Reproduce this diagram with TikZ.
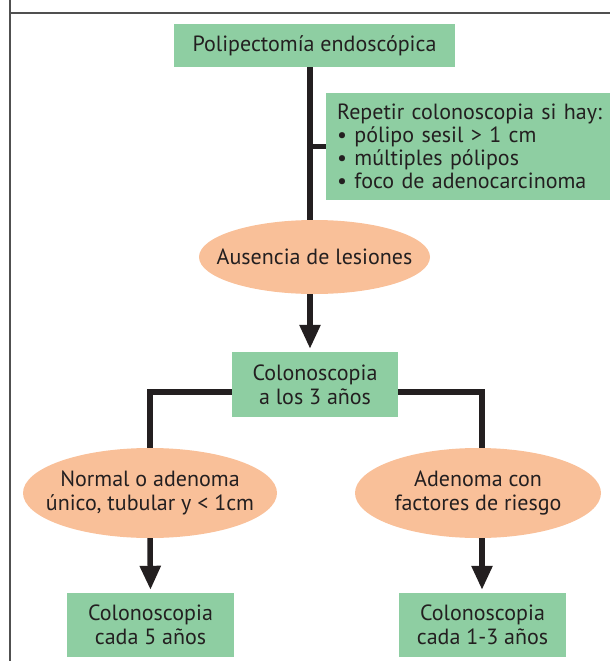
\documentclass[tikz,border=0pt]{standalone}
\usepackage{fontspec}
\setmainfont{PT Sans}
\usetikzlibrary{shapes.geometric,arrows.meta,positioning}

\definecolor{verde}{RGB}{142,206,162}
\definecolor{salmao}{RGB}{249,192,153}
\definecolor{tinta}{RGB}{35,31,32}
\definecolor{moldura}{RGB}{80,80,80}

\tikzset{
  caixa/.style={fill=verde,text=tinta,align=center,inner sep=0pt,
    font=\fontsize{22pt}{24pt}\selectfont},
  elipse/.style={ellipse,fill=salmao,inner sep=0pt},
  texto/.style={text=tinta,align=center,inner sep=0pt,
    font=\fontsize{22pt}{24pt}\selectfont},
  fio/.style={tinta,line width=5.5pt},
  seta/.style={fio,-{Triangle[length=24pt,width=20pt]},shorten >=3pt},
  borda/.style={moldura,line width=1.4pt}
}

\begin{document}
\begin{tikzpicture}[x=1pt,y=-1pt]
  \useasboundingbox (0,0) rectangle (610,661);

  %moldura
  \draw[borda] (10,0) -- (10,661);
  \draw[borda] (10,13) -- (610,13);

  %caixas e elipses
  \node[caixa,minimum width=281pt,minimum height=43pt] (polip) at (314.5,45.5) {Polipectomía endoscópica};
  \node[caixa,anchor=north west,align=left,text width=270pt,inner xsep=11pt,minimum height=107pt,
    font=\fontsize{22pt}{23pt}\selectfont] (repetir) at (326,93)
    {Repetir colonoscopia si hay:\\\textbullet\ pólipo sesil > 1 cm\\\textbullet\ múltiples pólipos\\\textbullet\ foco de adenocarcinoma};
  \node[elipse,minimum width=231pt,minimum height=74pt] (ausencia) at (314.5,257) {};
  \node[texto] (ausencia-t) at (ausencia) {Ausencia de lesiones};
  \node[caixa,minimum width=166pt,minimum height=65pt] (col3) at (315,384.5) {Colonoscopia\\a los 3 años};
  \node[elipse,minimum width=254pt,minimum height=90pt] (normal) at (150,493) {};
  \node[texto] (normal-t) at (normal) {Normal o adenoma\\único, tubular y < 1cm};
  \node[elipse,minimum width=246pt,minimum height=90pt] (riesgo) at (478,493) {};
  \node[texto] (riesgo-t) at (riesgo) {Adenoma con\\factores de riesgo};
  \node[caixa,minimum width=167pt,minimum height=64pt] (cada5) at (150.5,625) {Colonoscopia\\cada 5 años};
  \node[caixa,minimum width=167pt,minimum height=64pt] (cada13) at (482.5,625) {Colonoscopia\\cada 1-3 años};

  %ligacoes
  \coordinate (eixo) at (310,0);
  \coordinate (ramo) at (150,392);
  \coordinate (ramo-d) at (482,392);

  \draw[fio] (polip.south -| eixo) -- (ausencia.north -| eixo);
  \draw[fio] (repetir.west -| eixo) -- (repetir.west);
  \draw[seta] (ausencia.south -| eixo) -- (col3.north -| eixo);

  \draw[fio] (col3.west |- ramo) -- (ramo) -- (normal.north);
  \draw[fio] (col3.east |- ramo-d) -- (ramo-d) -- (riesgo.north -| ramo-d);

  \draw[seta] (normal.south) -- (cada5.north);
  \draw[seta] (riesgo.south -| ramo-d) -- (cada13.north -| ramo-d);

\end{tikzpicture}
\end{document}
